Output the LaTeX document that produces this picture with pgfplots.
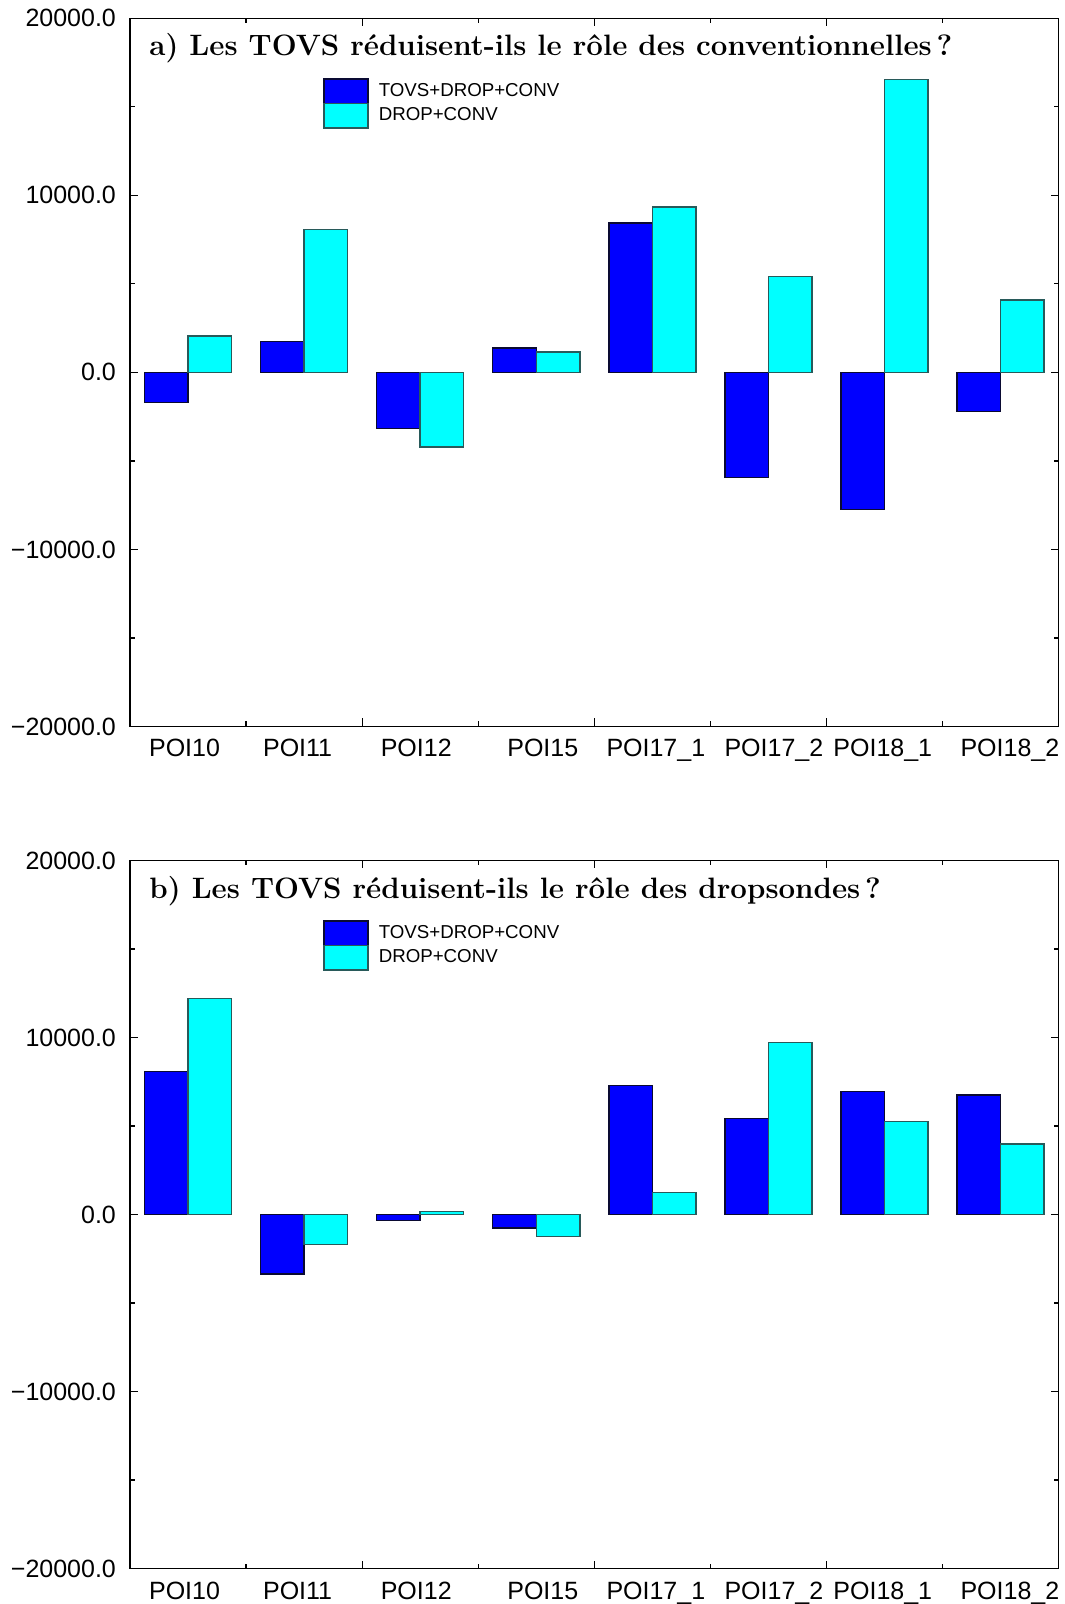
\documentclass[border=0pt]{standalone}
\usepackage{fontspec}
\newfontfamily\arial{Liberation Sans}
\usepackage{pgfplots}
\usepackage{pgfplotstable}
\pgfplotsset{compat=1.18}
\definecolor{pblue}{RGB}{0,0,255}
\definecolor{pcyan}{RGB}{0,255,255}
\definecolor{eblue}{RGB}{10,10,50}
\definecolor{ecyan}{RGB}{40,90,90}

\pgfplotstableread{
x a b
0 -1700 2050
1 1750 8080
2 -3180 -4220
3 1380 1150
4 8450 9330
5 -5950 5420
6 -7740 16550
7 -2200 4080
}\dataA
\pgfplotstableread{
x a b
0 8070 12200
1 -3370 -1690
2 -340 170
3 -770 -1230
4 7280 1240
5 5430 9730
6 6940 5260
7 6750 3980
}\dataB

\pgfplotsset{mystyle/.style={
  scale only axis, width=464.5pt, height=354.2pt, anchor=north west,
  xmin=-0.5, xmax=7.5, ymin=-20000, ymax=20000,
  scaled y ticks=false,
  axis line style={line width=0.75pt},
  tick align=inside,
  major tick length=4pt, minor tick length=2.5pt,
  tick style={black, line width=0.6pt},
  xtick={1.5,3.5,5.5}, xticklabels={},
  minor xtick={0.5,2.5,4.5,6.5},
  extra x ticks={-0.03,0.944,1.966,3.056,4.03,5.047,5.985,7.08},
  extra x tick labels={POI10,POI11,POI12,POI15,POI17\_1,POI17\_2,POI18\_1,POI18\_2},
  extra x tick style={major tick length=0pt},
  ytick={-20000,-10000,0,10000,20000},
  yticklabels={−20000.0,−10000.0,0.0,10000.0,20000.0},
  minor ytick={-15000,-5000,5000,15000},
  tick label style={font=\arial\fontsize{12.5}{15}\selectfont},
  xticklabel style={inner sep=0pt, yshift=-6.3pt},
  yticklabel style={xshift=-3.5pt},
  legend cell align=left,
  legend image code/.code={\draw[#1] (0pt,-6.125pt) rectangle (22pt,6.125pt);},
  legend style={at={(0.2078,0.916)}, anchor=north west, draw=none, fill=none,
    inner sep=0pt, row sep=-0.75pt, column sep=5pt,
    font=\arial\fontsize{9.35}{10}\selectfont, nodes={inner sep=0pt}},
  every axis title shift=0pt,
  title style={at={(0.0205,0.9468)}, anchor=base west, inner sep=0pt,
    font=\bfseries\fontsize{14.75}{18}\selectfont},
}}

\begin{document}
\begin{tikzpicture}
\path (0pt,0pt) rectangle (532.5pt,-802pt);
\begin{axis}[mystyle, at={(65pt,-9.15pt)},
  title={a) Les TOVS r\'eduisent-ils le r\^ole des conventionnelles\,?}]
\addplot[ybar, bar width=0.375, bar shift=-0.1875, fill=pblue, draw=eblue, line width=0.75pt] table[x=x,y=a]{\dataA};
\addlegendentry{TOVS+DROP+CONV}
\addplot[ybar, bar width=0.375, bar shift=0.1875, fill=pcyan, draw=ecyan, line width=0.75pt] table[x=x,y=b]{\dataA};
\addlegendentry{DROP+CONV}
\end{axis}
\begin{axis}[mystyle, at={(65pt,-430.35pt)},
  title={b) Les TOVS r\'eduisent-ils le r\^ole des dropsondes\,?}]
\addplot[ybar, bar width=0.375, bar shift=-0.1875, fill=pblue, draw=eblue, line width=0.75pt] table[x=x,y=a]{\dataB};
\addlegendentry{TOVS+DROP+CONV}
\addplot[ybar, bar width=0.375, bar shift=0.1875, fill=pcyan, draw=ecyan, line width=0.75pt] table[x=x,y=b]{\dataB};
\addlegendentry{DROP+CONV}
\end{axis}
\end{tikzpicture}
\end{document}
